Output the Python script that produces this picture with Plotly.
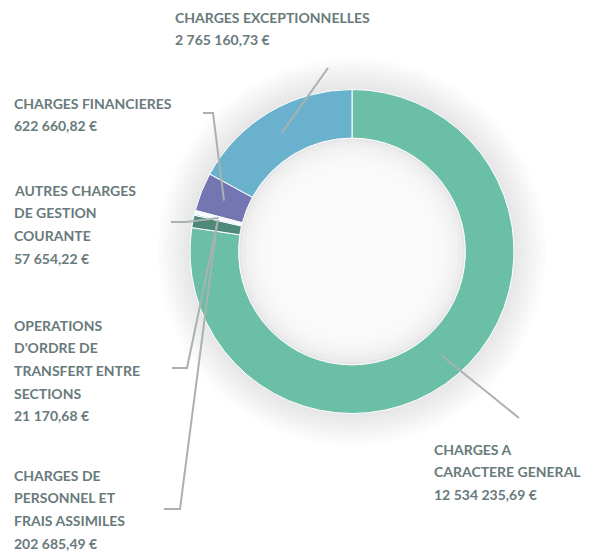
import numpy as np
import plotly.graph_objects as go

# Slices in clockwise order starting at 12 o'clock
categories = [
    "CHARGES A CARACTERE GENERAL",
    "CHARGES DE PERSONNEL ET FRAIS ASSIMILES",
    "OPERATIONS D'ORDRE DE TRANSFERT ENTRE SECTIONS",
    "AUTRES CHARGES DE GESTION COURANTE",
    "CHARGES FINANCIERES",
    "CHARGES EXCEPTIONNELLES",
]
values = [12534235.69, 202685.49, 21170.68, 57654.22, 622660.82, 2765160.73]
value_labels = ["12 534 235,69 €", "202 685,49 €", "21 170,68 €", "57 654,22 €",
                "622 660,82 €", "2 765 160,73 €"]
label_lines = [
    ["CHARGES A", "CARACTERE GENERAL"],
    ["CHARGES DE", "PERSONNEL ET", "FRAIS ASSIMILES"],
    ["OPERATIONS", "D'ORDRE DE", "TRANSFERT ENTRE", "SECTIONS"],
    ["AUTRES CHARGES", "DE GESTION", "COURANTE"],
    ["CHARGES FINANCIERES"],
    ["CHARGES EXCEPTIONNELLES"],
]
colors = ["#6abfa6", "#4f8a79", "#1fa2da", "#f4f9fb", "#7376b1", "#6ab1cd"]

W, H = 600, 553
CX, CY, R = 352, 251.5, 162
HOLE = 0.70
TEXT_COLOR = "#687a7b"
LINE_COLOR = "#a9b1b1"
LINE_H = 22.7

# label placement (pixels): left x, first line y, leader line elbow points
label_pos = [
    (432, 449, [(519, 418)]),
    (12, 475, [(164, 509), (180, 509)]),
    (12, 325, [(172, 368), (187, 368)]),
    (12, 190, [(171, 222), (186, 222)]),
    (12, 103, [(203, 113), (213, 113)]),
    (173, 17, [(328, 68)]),
]


def px(x):
    return x / W


def py(y):
    return 1 - y / H


fig = go.Figure()
fig.add_trace(go.Pie(
    labels=categories,
    values=values,
    sort=False,
    direction="clockwise",
    rotation=0,
    hole=HOLE,
    textinfo="none",
    hoverinfo="label+value",
    marker=dict(colors=colors, line=dict(color="white", width=1)),
    domain=dict(x=[px(CX - R), px(CX + R)], y=[py(CY + R), py(CY - R)]),
    showlegend=False,
))

shapes = []
# soft shadow around the ring
for dr in [32, 28, 24, 20, 16, 12, 8, 4]:
    shapes.append(dict(type="circle", xref="paper", yref="paper", layer="below",
                       x0=px(CX - R - dr), x1=px(CX + R + dr),
                       y0=py(CY + R + dr), y1=py(CY - R - dr),
                       fillcolor="rgba(0,0,0,0.013)", line_width=0))
r_in = R * HOLE
for dr in [3, 7, 11, 16, 22, 30]:
    shapes.append(dict(type="circle", xref="paper", yref="paper", layer="below",
                       x0=px(CX - r_in + dr), x1=px(CX + r_in - dr),
                       y0=py(CY + r_in - dr), y1=py(CY - r_in + dr),
                       fillcolor="rgba(255,255,255,0.25)", line_width=0))

# leader lines to slice mid-angle at mid-ring radius
total = sum(values)
cum = 0
annotations = []
for i, v in enumerate(values):
    mid = (cum + v / 2) / total
    cum += v
    ang = np.deg2rad(90 - mid * 360)
    rm = (R + r_in) / 2
    ax, ay = CX + rm * np.cos(ang), CY - rm * np.sin(ang)
    lx, ly, pts = label_pos[i]
    path_pts = pts + [(ax, ay)]
    path = "M " + " L ".join(f"{px(x):.5f},{py(y):.5f}" for x, y in path_pts)
    shapes.append(dict(type="path", path=path, xref="paper", yref="paper",
                       line=dict(color=LINE_COLOR, width=2)))
    lines = label_lines[i] + [value_labels[i]]
    for j, t in enumerate(lines):
        annotations.append(dict(
            x=px(lx), y=py(ly + j * LINE_H), xref="paper", yref="paper",
            xanchor="left", yanchor="middle", showarrow=False,
            text=f"<b>{t}</b>",
            font=dict(family="Lato", size=14, color=TEXT_COLOR)))

fig.update_layout(
    width=W, height=H,
    margin=dict(l=0, r=0, t=0, b=0),
    paper_bgcolor="white",
    plot_bgcolor="white",
    shapes=shapes,
    annotations=annotations,
)

fig.write_html("out.html", config={"displayModeBar": False},
               post_script="document.body.style.margin='0';")
